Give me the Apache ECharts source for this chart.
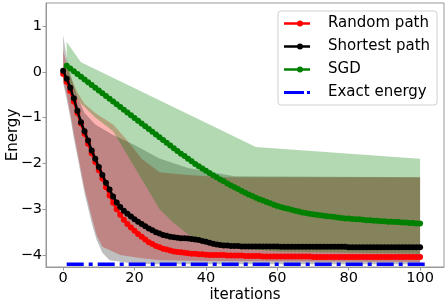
<!DOCTYPE html>
<html><head><meta charset="utf-8">
<script src="https://cdn.jsdelivr.net/npm/echarts@6/dist/echarts.min.js"></script>
<style>html,body{margin:0;padding:0;background:#fff}#c{width:448px;height:306px}</style>
</head><body><div id="c"></div>
<script>
// ---- data (iteration index = position in array) ----
const randomPath = [-0.05,-0.22,-0.42,-0.65,-0.90,-1.13,-1.35,-1.57,-1.78,-1.97,
 -2.15,-2.33,-2.52,-2.70,-2.86,-3.00,-3.12,-3.23,-3.32,-3.40,
 -3.47,-3.54,-3.60,-3.66,-3.72,-3.76,-3.80,-3.83,-3.86,-3.88,
 -3.90,-3.92,-3.93,-3.94,-3.95,-3.96,-3.97,-3.97,-3.98,-3.98,
 -3.99,-4.00,-4.00,-4.00,-4.00,-4.00,-4.01,-4.01,-4.01,-4.01,
 -4.01,-4.02,-4.02,-4.02,-4.02,-4.02,-4.03,-4.03,-4.03,-4.03,
 -4.03,-4.03,-4.03,-4.03,-4.03,-4.03,-4.03,-4.03,-4.03,-4.03,
 -4.04,-4.04,-4.04,-4.04,-4.04,-4.04,-4.04,-4.04,-4.04,-4.04,
 -4.04,-4.04,-4.04,-4.04,-4.04,-4.04,-4.04,-4.04,-4.04,-4.04,
 -4.04,-4.04,-4.04,-4.04,-4.04,-4.04,-4.04,-4.04,-4.04,-4.04,-4.04];
const shortestPath = [0.02,-0.15,-0.35,-0.58,-0.85,-1.10,-1.30,-1.50,-1.72,-1.90,
 -2.08,-2.25,-2.42,-2.57,-2.72,-2.85,-2.95,-3.03,-3.10,-3.16,
 -3.22,-3.27,-3.32,-3.37,-3.42,-3.46,-3.50,-3.53,-3.56,-3.58,
 -3.60,-3.61,-3.62,-3.63,-3.63,-3.64,-3.65,-3.66,-3.67,-3.69,
 -3.71,-3.73,-3.75,-3.77,-3.78,-3.79,-3.79,-3.80,-3.80,-3.80,
 -3.81,-3.81,-3.81,-3.81,-3.81,-3.81,-3.81,-3.81,-3.81,-3.81,
 -3.81,-3.82,-3.82,-3.82,-3.82,-3.82,-3.82,-3.82,-3.82,-3.82,
 -3.82,-3.82,-3.82,-3.82,-3.82,-3.82,-3.82,-3.82,-3.82,-3.82,
 -3.83,-3.83,-3.83,-3.83,-3.83,-3.83,-3.83,-3.83,-3.83,-3.83,
 -3.83,-3.83,-3.83,-3.83,-3.83,-3.83,-3.83,-3.83,-3.83,-3.83,-3.83];
const sgdStart = 1;
const sgd = [0.13,0.07,0.01,-0.05,-0.11,-0.17,-0.23,-0.29,-0.35,-0.41,
 -0.47,-0.53,-0.59,-0.65,-0.71,-0.77,-0.83,-0.89,-0.95,-1.01,
 -1.07,-1.13,-1.19,-1.25,-1.31,-1.37,-1.43,-1.49,-1.55,-1.61,
 -1.67,-1.73,-1.79,-1.84,-1.90,-1.95,-2.01,-2.06,-2.11,-2.16,
 -2.21,-2.26,-2.30,-2.35,-2.39,-2.44,-2.48,-2.52,-2.56,-2.60,
 -2.64,-2.68,-2.71,-2.75,-2.78,-2.81,-2.84,-2.87,-2.90,-2.93,
 -2.95,-2.97,-2.99,-3.01,-3.03,-3.05,-3.07,-3.08,-3.10,-3.11,
 -3.12,-3.13,-3.14,-3.15,-3.16,-3.17,-3.18,-3.19,-3.20,-3.20,
 -3.21,-3.22,-3.22,-3.23,-3.24,-3.24,-3.25,-3.25,-3.26,-3.26,
 -3.27,-3.27,-3.28,-3.28,-3.29,-3.29,-3.30,-3.30,-3.31,-3.31];
const exactEnergyX = [1, 102];
const exactEnergy = -4.2;

// uncertainty bands: [iteration, energy]
const randomUpper = [[0,0.47],[1,0.15],[2,-0.1],[4,-0.45],[6,-0.7],[9,-0.9],[14,-1.15],[18,-1.5],[22,-1.9],[27,-2.19],[35,-2.25],[45,-2.3],[100,-2.3]];
const randomLower = [[0,-0.2],[1,-0.5],[2,-0.9],[3,-1.35],[4,-1.75],[6,-2.55],[8,-3.17],[9.4,-3.57],[11,-3.82],[16,-4.0],[22,-4.07],[27,-4.11],[40,-4.13],[100,-4.15]];
const shortestUpper = [[0,0.8],[1,0.3],[2,-0.05],[4,-0.55],[6,-0.9],[9,-1.15],[14,-1.38],[20,-1.6],[27,-1.89],[35,-2.1],[48,-2.28],[100,-2.3]];
const shortestLower = [[0,-0.25],[1,-0.6],[2,-1.0],[3,-1.45],[4,-1.85],[6,-2.65],[8,-3.3],[9.4,-3.67],[11,-3.95],[13,-4.11],[19,-4.18],[25,-4.2],[100,-4.2]];
const sgdUpper = [[1,0.65],[5,0.21],[54,-1.64],[100,-1.9]];
const sgdLower = [[1,-0.2],[5,-0.7],[9,-1.0],[14,-1.3],[19,-1.95],[24,-2.6],[27,-3.0],[31,-3.3],[35,-3.55],[42,-3.8],[60,-3.92],[100,-3.97]];

const xTicks = [0,20,40,60,80,100];
const yTicks = [-4,-3,-2,-1,0,1];
const legendNames = ['Random path','Shortest path','SGD','Exact energy'];

// ---- chart ----
const FONT = 'DejaVu Sans';
const fmt = v => String(v).replace('-', '\u2212');
const chart = echarts.init(document.getElementById('c'), null, {renderer:'canvas'});

function band(name, upper, lower, color, z) {
  const pts = upper.concat(lower.slice().reverse());
  return {
    type:'custom', name, z, silent:true, clip:true,
    data: pts, encode:{x:0,y:1},
    renderItem(params, api) {
      if (params.dataIndex !== 0) return null;
      return {type:'polygon', shape:{points: pts.map(p => api.coord(p))}, style:{fill: color}};
    }
  };
}
function dotted(name, values, start, color, z) {
  return {
    type:'line', name, z, data: values.map((v,i)=>[i+start, v]),
    symbol:'circle', symbolSize:6, showSymbol:true, showAllSymbol:true,
    itemStyle:{color}, lineStyle:{color, width:2.5}, emphasis:{disabled:true}, animation:false
  };
}
const lineIcon = 'path://M0,0h0.01v0.01h-0.01z M39,8h-0.01v-0.01h0.01z M0,2.8h26v2.4h-26z M13,4a3,3 0 1,1 6,0a3,3 0 1,1 -6,0z';
const dashDotIcon = 'path://M0,0h0.01v0.01h-0.01z M39,8h-0.01v-0.01h0.01z M0,2.6h20v2.8h-20z M23,2.6h3v2.8h-3z';

chart.setOption({
  animation:false,
  backgroundColor:'#fff',
  grid:{left:46, right:4, top:3, bottom:39, outerBoundsMode:'none', containLabel:false,
    show:true, borderColor:'#999', borderWidth:1},
  xAxis:{type:'value', min:-4.8, max:106.7, name:'iterations', nameLocation:'middle', nameGap:21,
    nameMoveOverlap:false,
    nameTextStyle:{fontFamily:FONT, fontSize:15, color:'#000'},
    axisLine:{show:true, onZero:false, lineStyle:{color:'#999'}},
    axisTick:{show:true, length:3.5, lineStyle:{color:'#999'}, customValues:xTicks},
    axisLabel:{fontFamily:FONT, fontSize:14.5, color:'#000', margin:4, customValues:xTicks, formatter:fmt},
    splitLine:{show:false}},
  yAxis:{type:'value', min:-4.26, max:1.5, name:'Energy', nameLocation:'middle', nameGap:25, nameRotate:90,
    nameMoveOverlap:false,
    nameTextStyle:{fontFamily:FONT, fontSize:15, color:'#000'},
    axisLine:{show:true, onZero:false, lineStyle:{color:'#999'}},
    axisTick:{show:true, length:3.5, lineStyle:{color:'#999'}, customValues:yTicks},
    axisLabel:{fontFamily:FONT, fontSize:14.5, color:'#000', margin:4, customValues:yTicks, formatter:fmt},
    splitLine:{show:false}},
  legend:{orient:'vertical', left:278, top:11, padding:[5,7,5,6], itemGap:8, itemWidth:39, itemHeight:8,
    backgroundColor:'rgba(255,255,255,0.8)', borderColor:'#d0d0d0', borderWidth:1, borderRadius:3,
    textStyle:{fontFamily:FONT, fontSize:15, color:'#000'}, itemStyle:{borderWidth:0},
    selectedMode:false,
    data:[
      {name:legendNames[0], icon:lineIcon},
      {name:legendNames[1], icon:lineIcon},
      {name:legendNames[2], icon:lineIcon},
      {name:legendNames[3], icon:dashDotIcon}
    ]},
  series:[
    band('Random band', randomUpper, randomLower, 'rgba(255,0,0,0.3)', 1),
    band('Shortest band', shortestUpper, shortestLower, 'rgba(0,0,0,0.25)', 2),
    band('SGD band', sgdUpper, sgdLower, 'rgba(0,128,0,0.3)', 3),
    dotted(legendNames[0], randomPath, 0, '#ff0000', 5),
    dotted(legendNames[1], shortestPath, 0, '#000000', 6),
    dotted(legendNames[2], sgd, sgdStart, '#008000', 7),
    {type:'line', name:legendNames[3], z:8, data: exactEnergyX.map(x=>[x, exactEnergy]),
     symbol:'none', showSymbol:false, itemStyle:{color:'#0000ff'},
     lineStyle:{color:'#0000ff', width:3.5, type:[17,5,4,5], cap:'butt'}, emphasis:{disabled:true}}
  ]
});
</script></body></html>
